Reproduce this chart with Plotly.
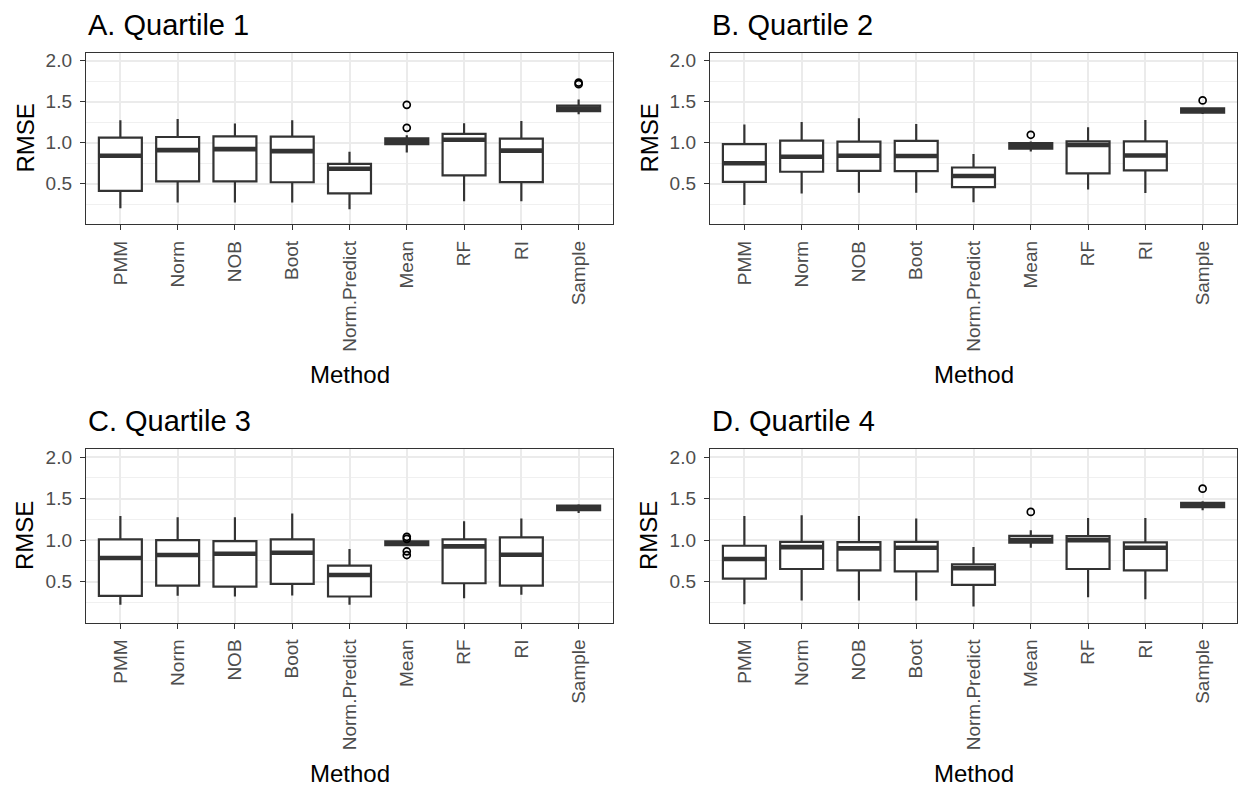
import plotly.graph_objects as go

W, H = 1238, 790
methods = ["PMM", "Norm", "NOB", "Boot", "Norm.Predict", "Mean", "RF", "RI", "Sample"]
titles = ["A. Quartile 1", "B. Quartile 2", "C. Quartile 3", "D. Quartile 4"]
y_ticks = [0.5, 1.0, 1.5, 2.0]
y_ticktext = ["0.5", "1.0", "1.5", "2.0"]
y_minor = [0.25, 0.75, 1.25, 1.75]

# Panel A - Quartile 1
a_lower = [0.20, 0.268, 0.268, 0.268, 0.188, 0.88, 0.285, 0.285, 1.345]
a_q1 = [0.412, 0.528, 0.528, 0.516, 0.38, 0.98, 0.60, 0.518, 1.383]
a_med = [0.84, 0.908, 0.92, 0.896, 0.68, 1.016, 1.034, 0.902, 1.416]
a_q3 = [1.06, 1.068, 1.076, 1.072, 0.74, 1.052, 1.105, 1.048, 1.452]
a_upper = [1.272, 1.288, 1.232, 1.272, 0.888, 1.088, 1.236, 1.262, 1.525]
a_out_m = ["Mean", "Mean", "Sample", "Sample"]
a_out_v = [1.46, 1.18, 1.732, 1.712]

# Panel B - Quartile 2
b_lower = [0.24, 0.38, 0.388, 0.388, 0.272, 0.89, 0.427, 0.385, 1.348]
b_q1 = [0.52, 0.644, 0.656, 0.652, 0.456, 0.927, 0.625, 0.66, 1.366]
b_med = [0.748, 0.828, 0.84, 0.836, 0.592, 0.958, 0.972, 0.842, 1.39]
b_q3 = [0.98, 1.024, 1.012, 1.02, 0.696, 0.995, 1.016, 1.015, 1.418]
b_upper = [1.22, 1.252, 1.296, 1.228, 0.86, 1.012, 1.186, 1.276, 1.425]
b_out_m = ["Mean", "Sample"]
b_out_v = [1.095, 1.514]

# Panel C - Quartile 3
c_lower = [0.22, 0.328, 0.32, 0.332, 0.22, 0.93, 0.30, 0.34, 1.328]
c_q1 = [0.328, 0.452, 0.44, 0.472, 0.32, 0.938, 0.48, 0.452, 1.36]
c_med = [0.784, 0.82, 0.836, 0.848, 0.58, 0.96, 0.924, 0.824, 1.388]
c_q3 = [1.008, 1.0, 0.988, 1.008, 0.692, 0.984, 1.008, 1.032, 1.416]
c_upper = [1.292, 1.276, 1.276, 1.32, 0.892, 0.995, 1.228, 1.26, 1.432]
c_out_m = ["Mean", "Mean", "Mean", "Mean"]
c_out_v = [1.04, 1.015, 0.865, 0.82]

# Panel D - Quartile 4
d_lower = [0.228, 0.272, 0.272, 0.272, 0.2, 0.908, 0.312, 0.288, 1.36]
d_q1 = [0.536, 0.652, 0.636, 0.624, 0.46, 0.968, 0.652, 0.636, 1.396]
d_med = [0.772, 0.916, 0.9, 0.908, 0.66, 1.0, 1.0, 0.908, 1.424]
d_q3 = [0.932, 0.98, 0.976, 0.98, 0.708, 1.052, 1.048, 0.972, 1.448]
d_upper = [1.292, 1.3, 1.292, 1.26, 0.916, 1.12, 1.268, 1.268, 1.468]
d_out_m = ["Mean", "Sample"]
d_out_v = [1.34, 1.62]

panels = [
    (a_lower, a_q1, a_med, a_q3, a_upper, a_out_m, a_out_v),
    (b_lower, b_q1, b_med, b_q3, b_upper, b_out_m, b_out_v),
    (c_lower, c_q1, c_med, c_q3, c_upper, c_out_m, c_out_v),
    (d_lower, d_q1, d_med, d_q3, d_upper, d_out_m, d_out_v),
]

# panel pixel boxes (left, right, top, bottom)
px_boxes = [
    (86, 613, 50, 222),
    (710, 1237, 50, 222),
    (86, 613, 448, 622),
    (710, 1237, 448, 622),
]

FONT = "Liberation Sans, Arial, sans-serif"
DARK = "#333333"
BOX_W = 0.75
xs = list(range(len(methods)))

fig = go.Figure()
layout_axes = {}
annotations = []

for k, (lo, q1, med, q3, hi, om, ov) in enumerate(panels):
    sfx = "" if k == 0 else str(k + 1)
    xa, ya = "x" + sfx, "y" + sfx
    fig.add_trace(go.Box(
        x=xs, q1=q1, median=med, q3=q3, lowerfence=lo, upperfence=hi,
        width=BOX_W, whiskerwidth=0, boxpoints=False,
        fillcolor="white", line=dict(color=DARK, width=2.2),
        xaxis=xa, yaxis=ya, hoverinfo="skip", showlegend=False,
    ))
    mx, my = [], []
    for i, m in enumerate(med):
        mx += [i - BOX_W / 2, i + BOX_W / 2, None]
        my += [m, m, None]
    fig.add_trace(go.Scatter(
        x=mx, y=my, mode="lines", line=dict(color=DARK, width=4.6),
        xaxis=xa, yaxis=ya, hoverinfo="skip", showlegend=False,
    ))
    fig.add_trace(go.Scatter(
        x=[methods.index(m) for m in om], y=ov, mode="markers",
        marker=dict(symbol="circle-open", size=7, color="black", line=dict(width=1.7)),
        xaxis=xa, yaxis=ya, hoverinfo="skip", showlegend=False,
    ))

    L, R, T, B = px_boxes[k]
    common = dict(
        showline=True, mirror=True, linecolor=DARK, linewidth=1.4,
        ticks="outside", ticklen=5, tickwidth=1.4, tickcolor=DARK,
        tickfont=dict(family=FONT, size=19, color="#4D4D4D"),
        showgrid=True, gridcolor="#EBEBEB", gridwidth=1.5, zeroline=False,
    )
    layout_axes["xaxis" + sfx] = dict(
        domain=[L / W, R / W], anchor=ya, range=[-0.6, len(methods) - 0.4],
        tickmode="array", tickvals=xs, ticktext=methods, tickangle=-90,
        ticklabelstandoff=3, **common,
    )
    layout_axes["yaxis" + sfx] = dict(
        domain=[1 - B / H, 1 - T / H], anchor=xa, range=[0.005, 2.095],
        tickmode="array", tickvals=y_ticks, ticktext=y_ticktext,
        ticklabelstandoff=4,
        minor=dict(tickmode="array", tickvals=y_minor, showgrid=True,
                   gridcolor="#F0F0F0", gridwidth=1, ticks=""),
        **common,
    )
    # panel title
    annotations.append(dict(
        text=titles[k], x=L / W, y=1 - (T - 28) / H, xref="paper", yref="paper",
        xanchor="left", yanchor="middle", showarrow=False,
        font=dict(family=FONT, size=29, color="black"),
    ))
    # y axis title
    x_rm = (L - 61) / W
    annotations.append(dict(
        text="RMSE", x=x_rm, y=1 - ((T + B) / 2) / H, xref="paper", yref="paper",
        xanchor="center", yanchor="middle", textangle=-90, showarrow=False,
        font=dict(family=FONT, size=24, color="black"),
    ))
    # x axis title
    annotations.append(dict(
        text="Method", x=((L + R) / 2) / W, y=1 - (B + 151) / H, xref="paper", yref="paper",
        xanchor="center", yanchor="middle", showarrow=False,
        font=dict(family=FONT, size=24, color="black"),
    ))

fig.update_layout(
    width=W, height=H, margin=dict(l=0, r=0, t=0, b=0),
    paper_bgcolor="white", plot_bgcolor="white", showlegend=False,
    annotations=annotations, **layout_axes,
)

fig.write_html("out.html")
